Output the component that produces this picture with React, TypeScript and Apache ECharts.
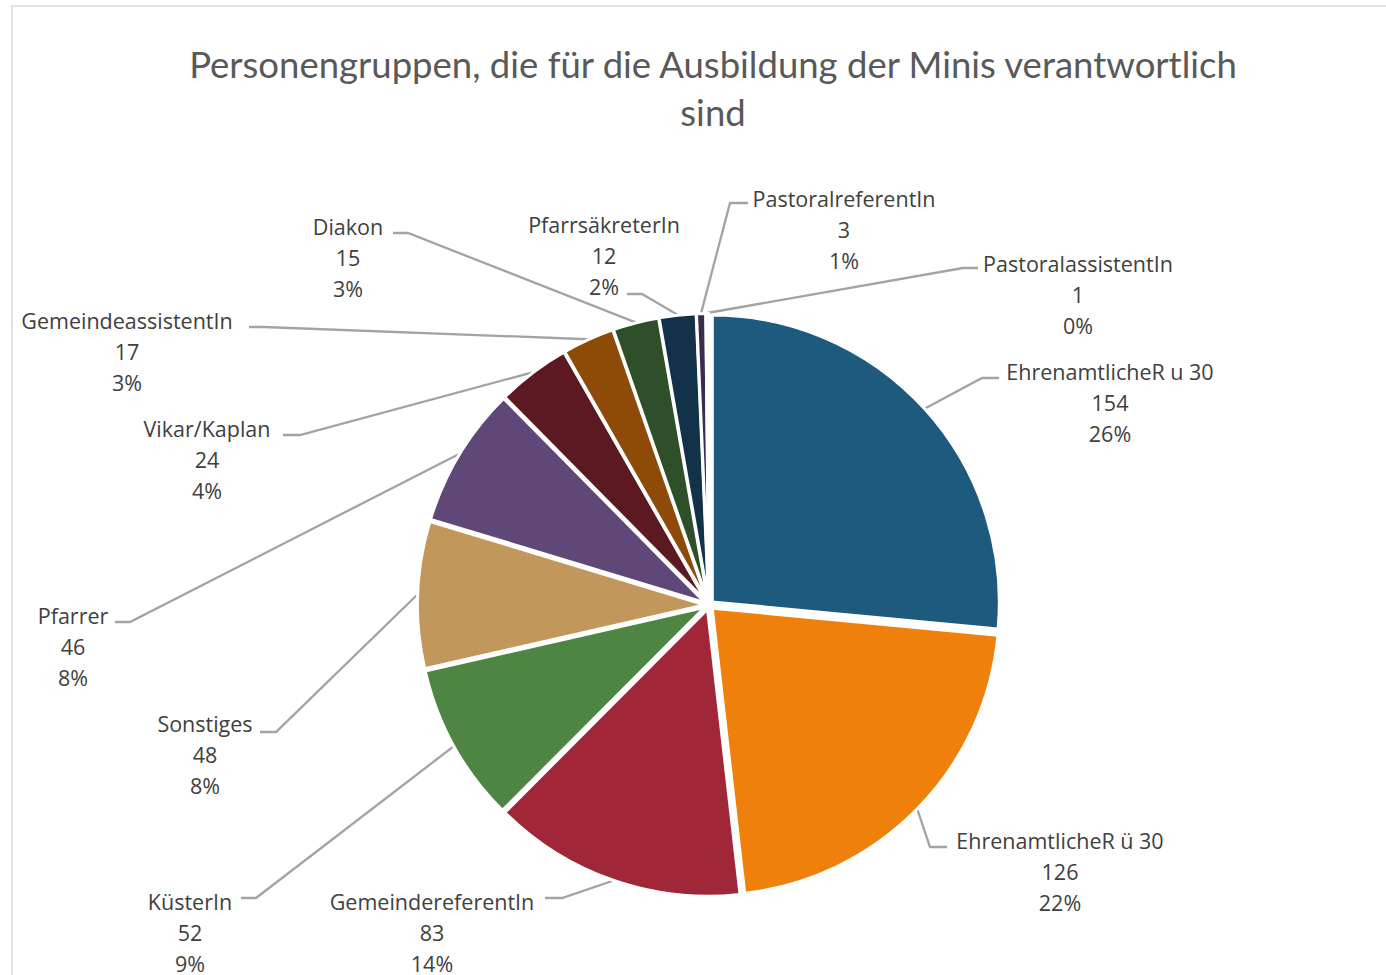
import React, { useEffect, useRef } from 'react';
import * as echarts from 'echarts';

const titleText = 'Personengruppen, die für die Ausbildung der Minis verantwortlich\nsind';

const categories = [
  'EhrenamtlicheR u 30',
  'EhrenamtlicheR ü 30',
  'GemeindereferentIn',
  'KüsterIn',
  'Sonstiges',
  'Pfarrer',
  'Vikar/Kaplan',
  'GemeindeassistentIn',
  'Diakon',
  'PfarrsäkreterIn',
  'PastoralreferentIn',
  'PastoralassistentIn',
];

const values = [154, 126, 83, 52, 48, 46, 24, 17, 15, 12, 3, 1];

const colors = [
  '#1E5A7D',
  '#EF800B',
  '#A02737',
  '#4E8542',
  '#C1975B',
  '#5F4878',
  '#5D1921',
  '#8E4B08',
  '#2E4F2A',
  '#12324A',
  '#3B2B4E',
  '#7A5A36',
];

// label placement (layout only): [centerX, firstLineCenterY, bendX, bendY, endX]
const labelSpots = [
  [1110, 371, 982, 378, 999],
  [1060, 840, 930, 847, 947],
  [432, 901, 562, 898, 545],
  [190, 901, 256, 898, 241],
  [205, 723, 276, 732, 260],
  [73, 615, 130, 622, 115],
  [207, 428, 300, 435, 283],
  [127, 320, 264, 327, 249],
  [348, 226, 408, 233, 393],
  [604, 224, 642, 294, 627],
  [844, 198, 730, 203, 748],
  [1078, 263, 963, 268, 978],
];

const CENTER = [709, 605];
const RADIUS = 287;
const LINE_H = 31;

export default function App() {
  const ref = useRef<HTMLDivElement>(null);

  useEffect(() => {
    if (!ref.current) return;
    const chart = echarts.init(ref.current, null, { renderer: 'svg' });
    const option: any = {
      animation: false,
      backgroundColor: '#ffffff',
      graphic: [
        {
          type: 'rect',
          silent: true,
          z: -1,
          shape: { x: 12, y: 6, width: 1500, height: 1100 },
          style: { fill: 'none', stroke: '#D9D9D9', lineWidth: 1.5 },
        },
        {
          type: 'text',
          x: 713,
          y: 40,
          silent: true,
          style: {
            text: titleText,
            fontFamily: 'Lato',
            fontSize: 36.5,
            lineHeight: 48,
            fill: '#595959',
            align: 'center',
            verticalAlign: 'top',
          },
        },
      ],
      series: [
        {
          // exploded slices
          type: 'pie',
          center: CENTER,
          radius: RADIUS,
          startAngle: 90,
          clockwise: true,
          selectedMode: 'multiple',
          selectedOffset: 4.5,
          emphasis: { disabled: true },
          itemStyle: { borderColor: '#ffffff', borderWidth: 3 },
          label: { show: false },
          labelLine: { show: false },
          data: categories.map((name, i) => ({
            name,
            value: values[i],
            selected: true,
            itemStyle: { color: colors[i] },
          })),
        },
        {
          // data labels with leader lines
          type: 'pie',
          center: CENTER,
          radius: RADIUS,
          startAngle: 90,
          clockwise: true,
          silent: true,
          z: 1,
          percentPrecision: 0,
          emphasis: { disabled: true },
          itemStyle: { color: 'rgba(0,0,0,0)', borderWidth: 0 },
          label: {
            show: true,
            position: 'outside',
            formatter: '{b}\n{c}\n{d}%',
            fontFamily: 'Open Sans',
            fontSize: 21.5,
            lineHeight: LINE_H,
            color: '#404040',
            align: 'center',
          },
          labelLine: {
            show: true,
            lineStyle: { color: '#A3A3A3', width: 2.3 },
          },
          labelLayout: (p: any) => {
            const s = labelSpots[p.dataIndex];
            const pts = p.labelLinePoints;
            let start = [s[2], s[3]];
            if (pts && pts[0]) {
              const dx = pts[0][0] - CENTER[0];
              const dy = pts[0][1] - CENTER[1];
              const d = Math.hypot(dx, dy) || 1;
              start = [CENTER[0] + (dx / d) * (RADIUS + 5), CENTER[1] + (dy / d) * (RADIUS + 5)];
            }
            return {
              x: s[0],
              y: s[1] - LINE_H / 2,
              align: 'center',
              verticalAlign: 'top',
              labelLinePoints: [start, [s[2], s[3]], [s[4], s[3]]],
            };
          },
          data: categories.map((name, i) => ({ name, value: values[i] })),
        },
      ],
    };
    chart.setOption(option);
    return () => chart.dispose();
  }, []);

  return (
    <div
      ref={ref}
      style={{ position: 'fixed', left: 0, top: 0, width: 1386, height: 975 }}
    />
  );
}
